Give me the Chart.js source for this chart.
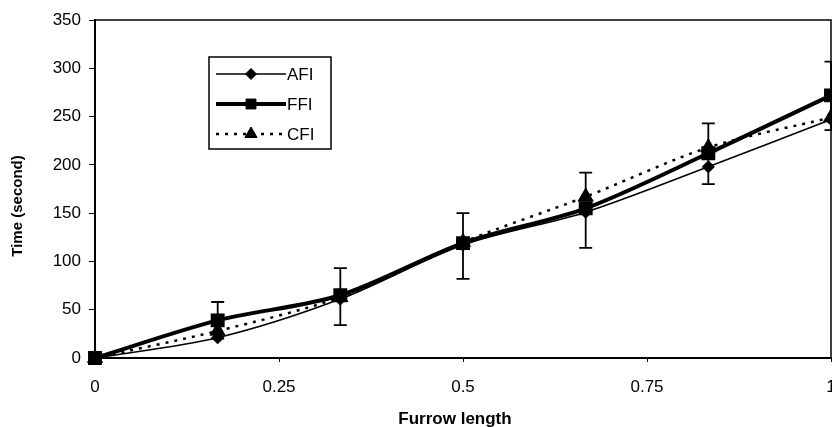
<!DOCTYPE html>
<html>
<head>
<meta charset="utf-8">
<script src="https://cdn.jsdelivr.net/npm/chart.js@4"></script>
<style>
    html, body { margin: 0; padding: 0; background: #fff; overflow: hidden; }
    #furrow-chart { display: block; }
</style>
</head>
<body>
<canvas id="furrow-chart" width="832" height="427"></canvas>
<script>
const furrowLength = [0, 0.1667, 0.3333, 0.5, 0.6667, 0.8333, 1];
const afiTime = [0, 21, 61, 117, 151, 198, 247];
const ffiTime = [0, 39, 65, 119, 155, 212, 272];
const cfiTime = [0, 28, 63, 120, 167, 218, 249];
// error bars (drawn on FFI)
const ffiLow = [null, 20, 34, 82, 114, 180, 236];
const ffiHigh = [null, 58, 93, 150, 192, 243, 307];
const xTicks = [0, 0.25, 0.5, 0.75, 1];

const FONT = "Arial, 'Liberation Sans', sans-serif";

function toPoints(values) {
    return furrowLength.map((x, i) => ({ x: x, y: values[i] }));
}

const errorBarPlugin = {
    id: "errorBars",
    afterDatasetsDraw(chart) {
        const ctx = chart.ctx;
        const xs = chart.scales.x;
        const ys = chart.scales.y;
        ctx.save();
        ctx.strokeStyle = "#000";
        ctx.lineWidth = 1.8;
        furrowLength.forEach((x, i) => {
            if (ffiLow[i] == null) return;
            const px = xs.getPixelForValue(x);
            const top = ys.getPixelForValue(ffiHigh[i]);
            const bot = ys.getPixelForValue(ffiLow[i]);
            ctx.beginPath();
            ctx.moveTo(px, top);
            ctx.lineTo(px, bot);
            ctx.moveTo(px - 6.5, top);
            ctx.lineTo(px + 6.5, top);
            ctx.moveTo(px - 6.5, bot);
            ctx.lineTo(px + 6.5, bot);
            ctx.stroke();
        });
        ctx.restore();
    },
};

const frameAndLegendPlugin = {
    id: "frameAndLegend",
    afterDraw(chart) {
        const ctx = chart.ctx;
        const area = chart.chartArea;
        ctx.save();
        // plot frame
        ctx.strokeStyle = "#000";
        ctx.lineWidth = 1.5;
        ctx.strokeRect(area.left, area.top, area.right - area.left, area.bottom - area.top);

        // axis titles
        ctx.fillStyle = "#000";
        ctx.textAlign = "center";
        ctx.font = "bold 17px " + FONT;
        ctx.textBaseline = "alphabetic";
        ctx.fillText("Furrow length", 455, 424);

        ctx.save();
        ctx.translate(18, 206);
        ctx.rotate(-Math.PI / 2);
        ctx.font = "bold 15px " + FONT;
        ctx.textBaseline = "middle";
        ctx.fillText("Time (second)", 0, 0);
        ctx.restore();

        // legend box
        ctx.fillStyle = "#fff";
        ctx.fillRect(209, 57, 122, 92);
        ctx.lineWidth = 1.5;
        ctx.strokeRect(209, 57, 122, 92);
        const rows = [74, 104, 134];
        chart.data.datasets.forEach((ds, i) => {
            const y = rows[i];
            ctx.save();
            ctx.strokeStyle = "#000";
            ctx.lineWidth = ds.borderWidth;
            ctx.setLineDash(ds.borderDash || []);
            ctx.beginPath();
            ctx.moveTo(216, y);
            ctx.lineTo(286, y);
            ctx.stroke();
            ctx.restore();
            ctx.save();
            ctx.fillStyle = "#000";
            ctx.strokeStyle = "#000";
            ctx.lineWidth = 1;
            Chart.helpers.drawPoint(ctx, {
                pointStyle: ds.pointStyle,
                radius: ds.pointRadius,
                borderWidth: 1,
                rotation: 0,
            }, 251, y);
            ctx.restore();
            ctx.font = "17px " + FONT;
            ctx.fillStyle = "#000";
            ctx.textAlign = "left";
            ctx.textBaseline = "middle";
            ctx.fillText(ds.label, 287, y + 1);
        });
        ctx.restore();
    },
};

const config = {
    type: "line",
    data: {
        datasets: [
            {
                label: "AFI",
                data: toPoints(afiTime),
                borderColor: "#000",
                backgroundColor: "#000",
                borderWidth: 1.6,
                pointStyle: "rectRot",
                pointRadius: 5.5,
                tension: 0.3,
            },
            {
                label: "FFI",
                data: toPoints(ffiTime),
                borderColor: "#000",
                backgroundColor: "#000",
                borderWidth: 4,
                pointStyle: "rect",
                pointRadius: 7,
                tension: 0.3,
            },
            {
                label: "CFI",
                data: toPoints(cfiTime),
                borderColor: "#000",
                backgroundColor: "#000",
                borderWidth: 2.5,
                borderDash: [3, 6],
                pointStyle: "triangle",
                pointRadius: 7,
                tension: 0.3,
            },
        ],
    },
    plugins: [errorBarPlugin, frameAndLegendPlugin],
    options: {
        responsive: false,
        animation: false,
        clip: false,
        layout: {
            autoPadding: false,
            padding: { top: 20, left: 0, right: 1, bottom: 0 },
        },
        elements: {
            point: { borderWidth: 1, hoverRadius: 6 },
        },
        plugins: {
            legend: { display: false },
            tooltip: { enabled: false },
        },
        scales: {
            x: {
                type: "linear",
                min: 0,
                max: 1,
                afterBuildTicks(scale) {
                    scale.ticks = xTicks.map((v) => ({ value: v }));
                },
                afterFit(scale) {
                    scale.height = 69;
                    scale.paddingLeft = 0;
                    scale.paddingRight = 0;
                },
                grid: {
                    drawOnChartArea: false,
                    drawTicks: true,
                    tickLength: 4,
                    tickColor: "#000",
                },
                border: { color: "#000", width: 2 },
                ticks: {
                    autoSkip: false,
                    maxRotation: 0,
                    padding: 15,
                    color: "#000",
                    font: { family: FONT, size: 17 },
                    callback: (v) => String(v),
                },
            },
            y: {
                min: 0,
                max: 350,
                afterFit(scale) {
                    scale.width = 95;
                },
                grid: {
                    drawOnChartArea: false,
                    drawTicks: true,
                    tickLength: 6,
                    tickColor: "#000",
                },
                border: { color: "#000", width: 2 },
                ticks: {
                    stepSize: 50,
                    padding: 8,
                    color: "#000",
                    font: { family: FONT, size: 17 },
                },
            },
        },
    },
};

new Chart(document.getElementById("furrow-chart"), config);
</script>
</body>
</html>
